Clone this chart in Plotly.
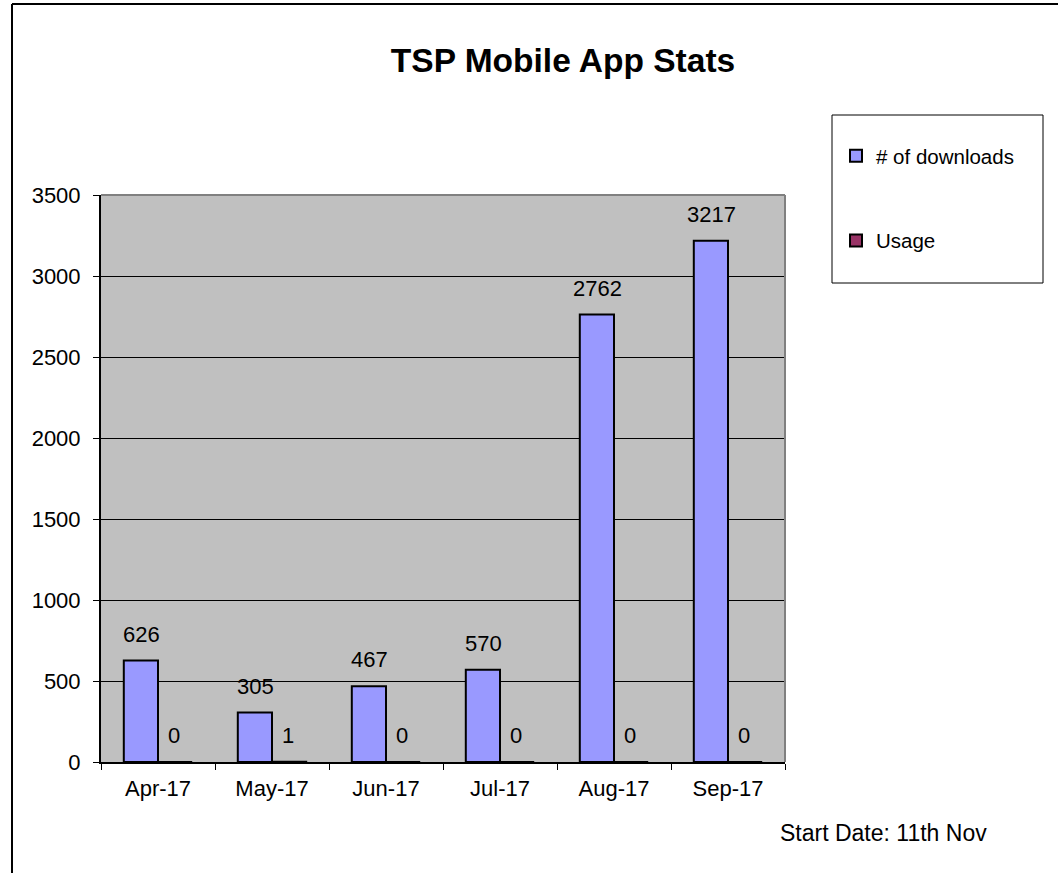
import plotly.graph_objects as go

categories = ["Apr-17", "May-17", "Jun-17", "Jul-17", "Aug-17", "Sep-17"]
downloads = [626, 305, 467, 570, 2762, 3217]
usage = [0, 1, 0, 0, 0, 0]
series_names = ["# of downloads", "Usage"]
y_ticks = [0, 500, 1000, 1500, 2000, 2500, 3000, 3500]

FONT = "Liberation Sans, Arial, sans-serif"
W, H = 1058, 873
L, R, T, B = 101, 785, 195, 762  # plot area pixel box

def px_x(x):
    return (x - L) / (R - L)

def px_y(y):
    return (B - y) / (B - T)

fig = go.Figure()
fig.add_trace(go.Bar(
    x=categories, y=downloads, name=series_names[0],
    marker=dict(color="#9999FF", line=dict(color="#000000", width=2)),
    legendgroup="a",
))
fig.add_trace(go.Bar(
    x=categories, y=usage, name=series_names[1],
    marker=dict(color="#993366", line=dict(color="#000000", width=2)),
    legendgroup="b",
))

LBL = dict(family=FONT, size=22, color="#000")
annotations = []
for cat, d, u in zip(categories, downloads, usage):
    annotations.append(dict(x=cat, y=d, text=str(d), showarrow=False, xshift=-17,
                            yshift=12, yanchor="bottom", font=LBL))
    annotations.append(dict(x=cat, y=u, text=str(u), showarrow=False, xshift=16,
                            yshift=12, yanchor="bottom", font=LBL))
annotations.append(dict(xref="paper", yref="paper", x=px_x(778), y=px_y(833),
                        xanchor="left", yanchor="middle", showarrow=False,
                        text="Start Date: 11th Nov",
                        font=dict(family=FONT, size=23, color="#000")))

shapes = [
    # outer chart border (top & left)
    dict(type="line", xref="paper", yref="paper", x0=px_x(12), x1=px_x(1080),
         y0=px_y(4), y1=px_y(4), line=dict(color="#000", width=2)),
    dict(type="line", xref="paper", yref="paper", x0=px_x(12), x1=px_x(12),
         y0=px_y(4), y1=px_y(900), line=dict(color="#000", width=2)),
    # plot area gray border top/right
    dict(type="line", xref="paper", yref="paper", x0=0, x1=1, y0=1, y1=1,
         line=dict(color="#808080", width=2), layer="above"),
    dict(type="line", xref="paper", yref="paper", x0=1, x1=1, y0=0, y1=1,
         line=dict(color="#808080", width=2), layer="above"),
    # legend box
    dict(type="rect", xref="paper", yref="paper", x0=px_x(832), x1=px_x(1043),
         y0=px_y(283), y1=px_y(115), line=dict(color="#000", width=1)),
]

fig.update_layout(
    width=W, height=H,
    margin=dict(l=L, r=W - R, t=T, b=H - B, pad=0),
    paper_bgcolor="#FFFFFF", plot_bgcolor="#C0C0C0",
    barmode="group", bargap=0.4, bargroupgap=0,
    font=dict(family=FONT, size=22, color="#000"),
    title=dict(text="<b>TSP Mobile App Stats</b>", x=563 / W, xanchor="center",
               y=1 - 60 / H, yanchor="middle", yref="container",
               font=dict(family=FONT, size=33.5, color="#000")),
    legend=dict(x=px_x(836), y=px_y(136), xanchor="left", yanchor="top",
                bgcolor="rgba(0,0,0,0)", borderwidth=0, tracegroupgap=55,
                font=dict(family=FONT, size=20.5, color="#000"), traceorder="grouped"),
    annotations=annotations,
    shapes=shapes,
    xaxis=dict(type="category", showgrid=False, showline=True, linecolor="#000",
               linewidth=2, ticks="outside", tickson="boundaries", ticklen=6,
               tickcolor="#000", tickfont=LBL, zeroline=False,
               ticklabelstandoff=6),
    yaxis=dict(range=[0, 3500], tickvals=y_ticks, showgrid=True, gridcolor="#000",
               gridwidth=1, showline=True, linecolor="#000", linewidth=2,
               ticks="outside", ticklen=6, tickcolor="#000",
               tickfont=LBL, zeroline=False, ticklabelstandoff=8),
)

fig.write_html("out.html", config={"displayModeBar": False},
               post_script="document.body.style.margin='0';document.body.style.overflow='hidden';")
